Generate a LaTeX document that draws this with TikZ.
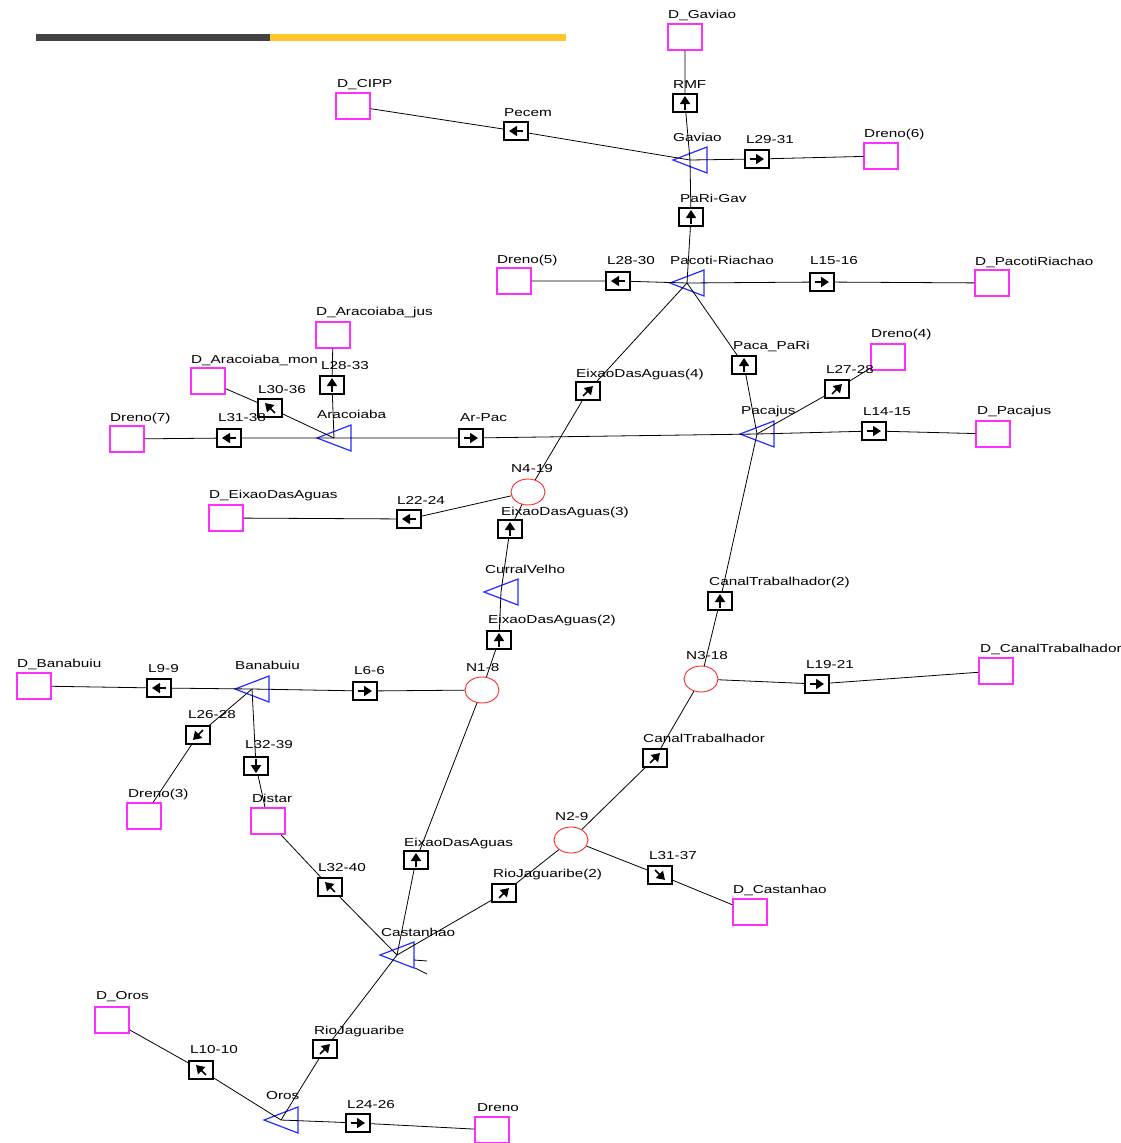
\documentclass[tikz,border=0pt]{standalone}
\usepackage{fontspec}
\newfontfamily\netfont{Liberation Sans}[FakeStretch=1.33]
\usepackage{tikz}
\usetikzlibrary{arrows.meta,shapes.geometric}

\definecolor{resblue}{RGB}{35,45,255}
\definecolor{demmag}{RGB}{255,45,255}
\definecolor{junred}{RGB}{255,40,40}
\definecolor{bardark}{RGB}{66,66,66}
\definecolor{baryel}{RGB}{255,198,44}

\tikzset{
  dem/.style={draw=demmag, line width=1.4, minimum width=34, minimum height=26, inner sep=0},
  lnk/.style={draw, fill=white, line width=1.1, minimum width=24, minimum height=18, inner sep=0},
  jun/.style={draw=junred, ellipse, line width=0.9, minimum width=34, minimum height=26, inner sep=0},
  res/.style={draw=resblue, line width=1.2},
  pipe/.style={draw, line width=0.8},
  flow/.style={line width=1.7, -{Triangle[length=8pt,width=10pt]}},
  lbl/.style={anchor=base west, inner sep=0, font=\netfont\fontsize{11.5}{13}\selectfont}
}

\begin{document}
\begin{tikzpicture}[x=1pt,y=1pt,yscale=-1,xscale=1]
\useasboundingbox (0,0) rectangle (1120,1143);

%Shape: Bar
\fill[bardark] (36,34) rectangle (270,41);
\fill[baryel] (270,34) rectangle (566,41);

%Shape: Reservoirs
\coordinate (gav) at (690,160);
\coordinate (pari) at (687,283);
\coordinate (arac) at (334,438);
\coordinate (paca) at (757,434);
\coordinate (curr) at (501,592);
\coordinate (bana) at (252,689);
\coordinate (cast) at (397,955);
\coordinate (oros) at (281,1120);
\foreach \r in {gav,pari,arac,paca,curr,bana,cast,oros}
  \draw[res] ([xshift=-17pt]\r) -- ([xshift=17pt,yshift=13pt]\r) -- ([xshift=17pt,yshift=-13pt]\r) -- cycle;

%Shape: Demands
\node[dem] (dgav) at (685,37) {};
\node[dem] (dcipp) at (353,106) {};
\node[dem] (dren6) at (881,156) {};
\node[dem] (dpari) at (992,283) {};
\node[dem] (dren5) at (514,281) {};
\node[dem] (darj) at (333,335) {};
\node[dem] (darm) at (208,381) {};
\node[dem] (dren7) at (127,439) {};
\node[dem] (dren4) at (888,357) {};
\node[dem] (dpac) at (993,434) {};
\node[dem] (deix) at (226,518) {};
\node[dem] (dban) at (34,686) {};
\node[dem] (dren3) at (144,816) {};
\node[dem] (dist) at (268,821) {};
\node[dem] (dcan) at (996,671) {};
\node[dem] (dcas) at (750,912) {};
\node[dem] (doros) at (112,1020) {};
\node[dem] (dreno) at (492,1130) {};

%Shape: Junctions
\node[jun] (n419) at (528,492) {};
\node[jun] (n18) at (482,690) {};
\node[jun] (n318) at (701,679) {};
\node[jun] (n29) at (571,840) {};

%Shape: Links
\node[lnk] (rmf) at (685,103) {};
\node[lnk] (pecem) at (516,131) {};
\node[lnk] (l2931) at (757,159) {};
\node[lnk] (parigav) at (691,217) {};
\node[lnk] (l2830) at (618,281) {};
\node[lnk] (l1516) at (822,282) {};
\node[lnk] (eix4) at (588,391) {};
\node[lnk] (pacapari) at (744,365) {};
\node[lnk] (l2728) at (837,389) {};
\node[lnk] (l1415) at (874,431) {};
\node[lnk] (arpac) at (471,438) {};
\node[lnk] (l2833) at (332,385) {};
\node[lnk] (l3036) at (270,408) {};
\node[lnk] (l3138) at (229,438) {};
\node[lnk] (l2224) at (409,519) {};
\node[lnk] (eix3) at (510,529) {};
\node[lnk] (eix2) at (499,640) {};
\node[lnk] (l66) at (365,691) {};
\node[lnk] (l99) at (159,688) {};
\node[lnk] (l2628) at (198,735) {};
\node[lnk] (l3239) at (256,766) {};
\node[lnk] (l3240) at (330,887) {};
\node[lnk] (eix1) at (416,860) {};
\node[lnk] (rioj2) at (504,893) {};
\node[lnk] (canal) at (655,758) {};
\node[lnk] (canal2) at (720,601) {};
\node[lnk] (l1921) at (817,684) {};
\node[lnk] (l3137) at (660,875) {};
\node[lnk] (l1010) at (201,1070) {};
\node[lnk] (rioj) at (325,1049) {};
\node[lnk] (l2426) at (358,1123) {};

%Arrows in links
\foreach \l/\a in {rmf/-90, pecem/180, l2931/0, parigav/-90, l2830/180, l1516/0,
    eix4/-45, pacapari/-90, l2728/-45, l1415/0, arpac/0, l2833/-90, l3036/-135,
    l3138/180, l2224/180, eix3/-90, eix2/-90, l66/0, l99/180, l2628/135, l3239/90,
    l3240/-135, eix1/-90, rioj2/-45, canal/-45, canal2/-90, l1921/0, l3137/45,
    l1010/-135, rioj/-45, l2426/0}
  \draw[flow] (\l.center) ++(\a+180:7) -- ++(\a:14);

%Connectors
\draw[pipe] (dgav) -- (rmf) -- (gav);
\draw[pipe] (dcipp) -- (pecem) -- (gav);
\draw[pipe] (gav) -- (l2931) -- (dren6);
\draw[pipe] (gav) -- (parigav) -- (pari);
\draw[pipe] (pari) -- (l2830) -- (dren5);
\draw[pipe] (pari) -- (l1516) -- (dpari);
\draw[pipe] (pari) -- (eix4) -- (n419);
\draw[pipe] (pari) -- (pacapari) -- (paca);
\draw[pipe] (paca) -- (l2728) -- (dren4);
\draw[pipe] (paca) -- (l1415) -- (dpac);
\draw[pipe] (arac) -- (arpac) -- (paca);
\draw[pipe] (arac) -- (l2833) -- (darj);
\draw[pipe] (arac) -- (l3036) -- (darm);
\draw[pipe] (arac) -- (l3138) -- (dren7);
\draw[pipe] (n419) -- (l2224) -- (deix);
\draw[pipe] (n419) -- (eix3) -- (curr);
\draw[pipe] (curr) -- (eix2) -- (n18);
\draw[pipe] (bana) -- (l66) -- (n18);
\draw[pipe] (bana) -- (l99) -- (dban);
\draw[pipe] (bana) -- (l2628) -- (dren3);
\draw[pipe] (bana) -- (l3239) -- (dist);
\draw[pipe] (dist) -- (l3240) -- (cast);
\draw[pipe] (cast) -- (eix1) -- (n18);
\draw[pipe] (cast) -- (rioj2) -- (n29);
\draw[pipe] (n29) -- (canal) -- (n318);
\draw[pipe] (n318) -- (canal2) -- (paca);
\draw[pipe] (n318) -- (l1921) -- (dcan);
\draw[pipe] (n29) -- (l3137) -- (dcas);
\draw[pipe] (oros) -- (rioj) -- (cast);
\draw[pipe] (oros) -- (l1010) -- (doros);
\draw[pipe] (oros) -- (l2426) -- (dreno);
\coordinate (castA) at ([xshift=17pt,yshift=5pt]cast);
\coordinate (castB) at ([xshift=30pt,yshift=6pt]cast);
\coordinate (castC) at ([xshift=18pt,yshift=13pt]cast);
\coordinate (castD) at ([xshift=30pt,yshift=19pt]cast);
\draw[pipe] (castA) -- (castB);
\draw[pipe] (castC) -- (castD);

% Text Node
\node[lbl] (tdgav) at (668,18) {D\_Gaviao};
\node[lbl] (trmf) at (673,88) {RMF};
\node[lbl] (tgav) at (673,141) {Gaviao};
\node[lbl] (tdcipp) at (337,87) {D\_CIPP};
\node[lbl] (tpecem) at (504,116) {Pecem};
\node[lbl] (tl2931) at (746,143) {L29-31};
\node[lbl] (tdren6) at (864,137) {Dreno(6)};
\node[lbl] (tparigav) at (680,202) {PaRi-Gav};
\node[lbl] (tpari) at (670,264) {Pacoti-Riachao};
\node[lbl] (tl1516) at (810,264) {L15-16};
\node[lbl] (tdpari) at (975,265) {D\_PacotiRiachao};
\node[lbl] (tl2830) at (607,264) {L28-30};
\node[lbl] (tdren5) at (497,263) {Dreno(5)};
\node[lbl] (teix4) at (576,377) {EixaoDasAguas(4)};
\node[lbl] (tpacapari) at (733,349) {Paca\_PaRi};
\node[lbl] (tpaca) at (741,414) {Pacajus};
\node[lbl] (tl2728) at (826,373) {L27-28};
\node[lbl] (tl1415) at (863,415) {L14-15};
\node[lbl] (tdren4) at (871,337) {Dreno(4)};
\node[lbl] (tdpac) at (977,414) {D\_Pacajus};
\node[lbl] (tdarj) at (316,315) {D\_Aracoiaba\_jus};
\node[lbl] (tdarm) at (191,363) {D\_Aracoiaba\_mon};
\node[lbl] (tl2833) at (321,369) {L28-33};
\node[lbl] (tl3036) at (258,393) {L30-36};
\node[lbl] (tdren7) at (110,421) {Dreno(7)};
\node[lbl] (tl3138) at (218,421) {L31-38};
\node[lbl] (tarac) at (317,418) {Aracoiaba};
\node[lbl] (tarpac) at (460,421) {Ar-Pac};
\node[lbl] (tn419) at (511,472) {N4-19};
\node[lbl] (tdeix) at (209,498) {D\_EixaoDasAguas};
\node[lbl] (tl2224) at (397,504) {L22-24};
\node[lbl] (teix3) at (501,515) {EixaoDasAguas(3)};
\node[lbl] (tcurr) at (485,573) {CurralVelho};
\node[lbl] (teix2) at (488,623) {EixaoDasAguas(2)};
\node[lbl] (tcanal2) at (709,585) {CanalTrabalhador(2)};
\node[lbl] (tdban) at (17,667) {D\_Banabuiu};
\node[lbl] (tl99) at (148,672) {L9-9};
\node[lbl] (tbana) at (235,669) {Banabuiu};
\node[lbl] (tl66) at (354,674) {L6-6};
\node[lbl] (tn18) at (466,671) {N1-8};
\node[lbl] (tn318) at (686,659) {N3-18};
\node[lbl] (tl1921) at (806,668) {L19-21};
\node[lbl] (tdcan) at (980,652) {D\_CanalTrabalhador};
\node[lbl] (tl2628) at (188,718) {L26-28};
\node[lbl] (tl3239) at (245,748) {L32-39};
\node[lbl] (tcanal) at (643,742) {CanalTrabalhador};
\node[lbl] (tdren3) at (128,797) {Dreno(3)};
\node[lbl] (tdist) at (252,802) {Distar};
\node[lbl] (tn29) at (555,820) {N2-9};
\node[lbl] (teix1) at (404,846) {EixaoDasAguas};
\node[lbl] (tl3137) at (649,859) {L31-37};
\node[lbl] (tl3240) at (318,871) {L32-40};
\node[lbl] (trioj2) at (493,877) {RioJaguaribe(2)};
\node[lbl] (tdcas) at (733,893) {D\_Castanhao};
\node[lbl] (tcast) at (381,936) {Castanhao};
\node[lbl] (tdoros) at (96,999) {D\_Oros};
\node[lbl] (trioj) at (314,1034) {RioJaguaribe};
\node[lbl] (tl1010) at (190,1053) {L10-10};
\node[lbl] (toros) at (266,1099) {Oros};
\node[lbl] (tl2426) at (347,1108) {L24-26};
\node[lbl] (tdreno) at (477,1111) {Dreno};

\end{tikzpicture}
\end{document}
